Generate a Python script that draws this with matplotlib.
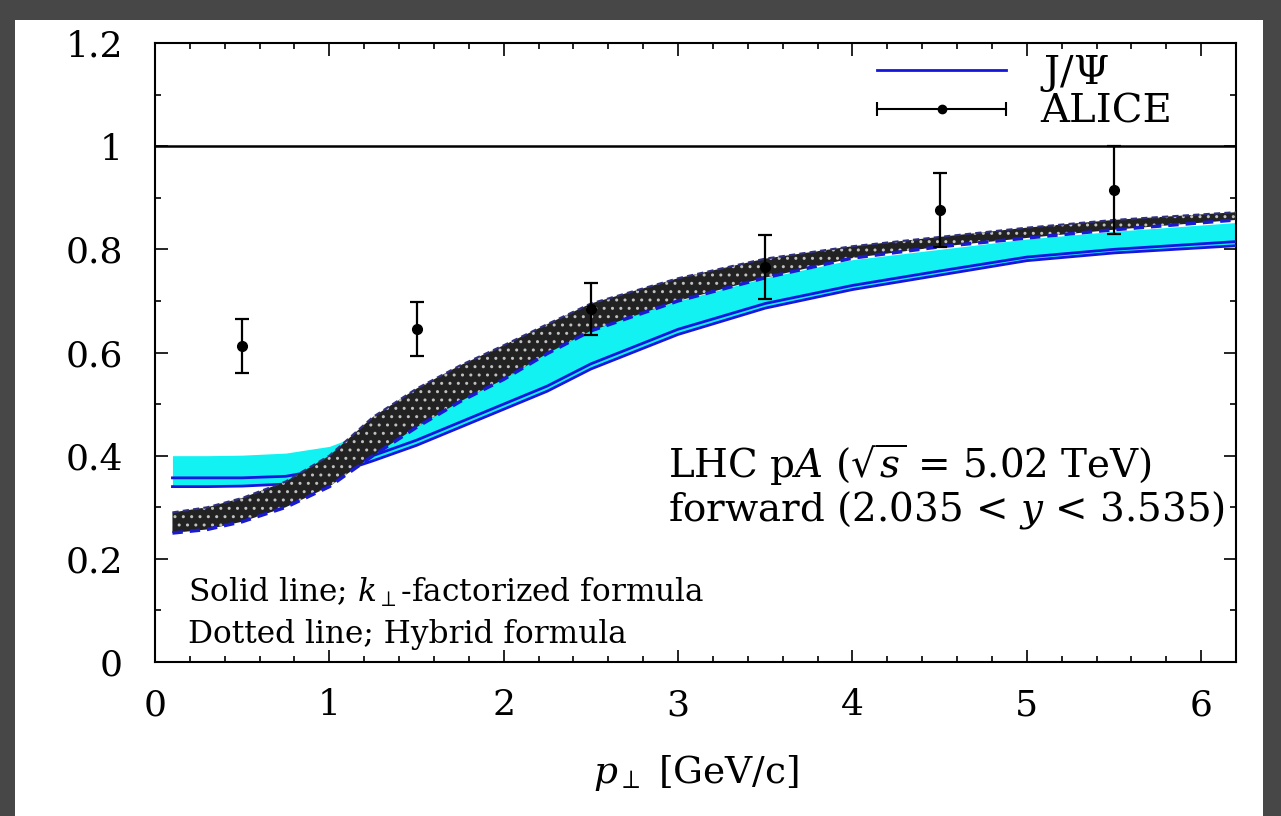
import numpy as np
import matplotlib
matplotlib.use("Agg")
import matplotlib.pyplot as plt
from matplotlib.lines import Line2D
from matplotlib.patches import Rectangle
from matplotlib.legend_handler import HandlerLine2D, HandlerTuple

plt.rcParams['font.family'] = ['DejaVu Serif']
plt.rcParams['mathtext.fontset'] = 'dejavuserif'
plt.rcParams['hatch.linewidth'] = 1.0

# ALICE data points (R_pA vs p_T)
alice_pt = [0.5, 1.5, 2.5, 3.5, 4.5, 5.5]
alice_r = [0.612, 0.645, 0.684, 0.765, 0.876, 0.915]
alice_err = [0.052, 0.052, 0.050, 0.062, 0.072, 0.085]

# model bands
pt = [0.1, 0.3, 0.5, 0.75, 1.0, 1.25, 1.5, 1.75, 2.0, 2.25, 2.5, 3.0, 3.5, 4.0, 4.5, 5.0, 5.5, 6.2]
# k_perp factorized (solid, cyan band)
kt_hi = [0.400, 0.400, 0.401, 0.405, 0.418, 0.45, 0.49, 0.53, 0.57, 0.61, 0.65, 0.70, 0.745, 0.78, 0.80, 0.82, 0.835, 0.852]
kt_s1 = [0.357, 0.357, 0.357, 0.360, 0.375, 0.40, 0.43, 0.465, 0.50, 0.535, 0.578, 0.645, 0.695, 0.730, 0.758, 0.785, 0.800, 0.815]
kt_s2 = [0.340, 0.340, 0.341, 0.345, 0.362, 0.39, 0.42, 0.455, 0.49, 0.525, 0.568, 0.635, 0.686, 0.722, 0.750, 0.778, 0.793, 0.807]
# hybrid formula (dashed, dotted black band)
hyb_hi = [0.290, 0.300, 0.318, 0.350, 0.400, 0.475, 0.53, 0.575, 0.614, 0.655, 0.695, 0.744, 0.782, 0.806, 0.824, 0.842, 0.857, 0.872]
hyb_lo = [0.250, 0.257, 0.272, 0.300, 0.340, 0.400, 0.455, 0.505, 0.548, 0.598, 0.642, 0.70, 0.745, 0.783, 0.805, 0.822, 0.838, 0.857]

fig = plt.figure(figsize=(12.81, 8.16), dpi=100)
fig.patch.set_facecolor('#474747')
fig.add_artist(Rectangle((15/1281, 0), (1263-15)/1281, (816-20)/816,
                         transform=fig.transFigure, facecolor='white', edgecolor='none', zorder=0))
ax = fig.add_axes([155/1281, 1-662/816, (1236-155)/1281, (662-43)/816])
ax.set_facecolor('white')

ax.fill_between(pt, kt_s2, kt_hi, color='#12f2f2', lw=0, zorder=2)
ax.plot(pt, kt_s1, color='#1515e0', lw=2, zorder=3)
ax.plot(pt, kt_s2, color='#1515e0', lw=2, zorder=3)
ax.fill_between(pt, hyb_lo, hyb_hi, facecolor='#222222', edgecolor='#c0c0c0',
                hatch='..', lw=0, zorder=4)
ax.plot(pt, hyb_lo, color='#1a1ad0', lw=2.5, ls=(0, (3, 2)), zorder=5)
ax.plot(pt, hyb_hi, color='#303080', lw=1.5, ls=(0, (3, 2)), zorder=5)

ax.axhline(1.0, color='black', lw=1.8, zorder=3)
ax.errorbar(alice_pt, alice_r, yerr=alice_err, fmt='o', color='black', ms=7,
            lw=1.6, capsize=5, capthick=1.6, zorder=6)

ax.set_xlim(0, 6.2)
ax.set_ylim(0, 1.2)
ax.set_xticks(range(7))
ax.set_xticks(np.arange(0, 6.21, 0.2), minor=True)
ax.set_yticks([0, 0.2, 0.4, 0.6, 0.8, 1.0, 1.2])
ax.set_yticklabels(['0', '0.2', '0.4', '0.6', '0.8', '1', '1.2'])
ax.set_yticks(np.arange(0, 1.21, 0.1), minor=True)
ax.tick_params(which='both', direction='in', top=True, right=True, labelsize=26, width=1.2)
ax.tick_params(which='major', length=9)
ax.tick_params(which='minor', length=4.5)
ax.tick_params(axis='x', which='major', pad=19)
ax.tick_params(axis='y', which='major', pad=23)
for s in ax.spines.values():
    s.set_linewidth(1.5)

ax.set_xlabel(r'$p_\perp$ [GeV/c]', fontsize=27, labelpad=22)

ax.text(2.94, 0.382, r'LHC p$A$ ($\sqrt{s}$ = 5.02 TeV)', fontsize=28, va='center')
ax.text(2.94, 0.295, r'forward (2.035 < $y$ < 3.535)', fontsize=28, va='center')
ax.text(0.19, 0.134, r'Solid line; $k_\perp$-factorized formula', fontsize=22.5, va='center')
ax.text(0.19, 0.054, 'Dotted line; Hybrid formula', fontsize=22.5, va='center')

jpsi = Line2D([], [], color='#1515e0', lw=2)
bar = Line2D([], [], color='black', lw=1.5, marker='|', ms=10, mew=1.5)
dot = Line2D([], [], color='black', marker='o', ms=6, ls='none')
ax.legend([jpsi, (bar, dot)], [r'J/$\Psi$', 'ALICE'], loc='upper right',
          bbox_to_anchor=(0.941, 0.984), frameon=False, fontsize=29,
          borderaxespad=0, borderpad=0,
          handlelength=3.2, handletextpad=0.85, labelspacing=0.0,
          handler_map={bar: HandlerLine2D(numpoints=2, marker_pad=0),
                       dot: HandlerLine2D(numpoints=1),
                       tuple: HandlerTuple(ndivide=1)})

fig.savefig('out.png', dpi=100, facecolor=fig.get_facecolor())
